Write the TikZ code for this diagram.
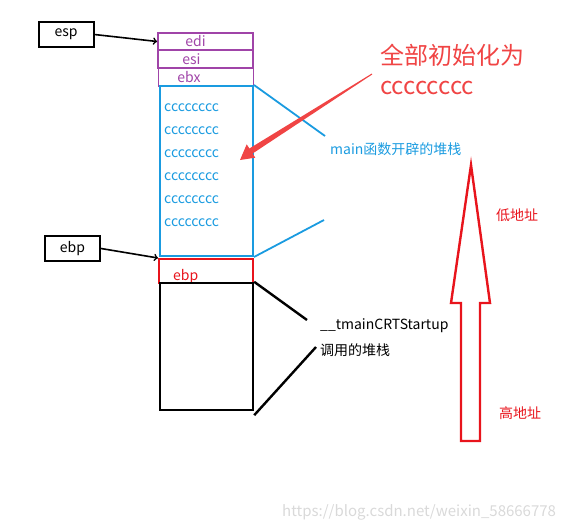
\documentclass[tikz,border=0pt]{standalone}
\usepackage{fontspec}
\setmainfont{Noto Sans CJK SC}
\definecolor{regpurple}{HTML}{A044A8}
\definecolor{stackblue}{HTML}{1A9BE0}
\definecolor{addrred}{HTML}{E8141C}
\definecolor{noteredd}{HTML}{F04444}
\begin{document}
\begin{tikzpicture}[x=1pt,y=-1pt,
		reg/.style={draw=black,line width=2pt,minimum width=55pt,minimum height=25pt,inner sep=0pt,font=\fontsize{14}{16}\selectfont},
		slot/.style={draw=regpurple,line width=1.8pt,text=regpurple,minimum width=95pt,inner sep=0pt,font=\fontsize{14}{16}\selectfont},
		txt/.style={anchor=west,inner sep=0pt,font=\fontsize{14}{16}\selectfont}]
		\useasboundingbox (0,0) rectangle (562,530);
		% registers
		\node (esp) at (66,34.5) [reg] {esp};
		\node (ebp) at (72.5,248.5) [reg] {ebp};
		\node (edi) at (205.5,41.5) [slot,minimum height=17pt] {\hspace{-20pt}edi};
		\node (esi) at (205.5,59) [slot,minimum height=18pt] {\hspace{-28pt}esi};
		\node (ebx) at (206,77) [slot,minimum height=18pt] {\hspace{-34pt}ebx};
		\draw[->,line width=1.6pt] (esp.east) -- (edi.west);
		% main stack
		\node (main) at (206.5,171) [draw=stackblue,line width=2pt,minimum width=93pt,minimum height=170pt] {};
		\foreach \y [count=\i] in {108,131,154,177,200,223}
			\node (c\i) at (164,\y) [txt,text=stackblue] {cccccccc};
		\node (mainlbl) at (330,149) [txt,text=stackblue] {main函数开辟的堆栈};
		\coordinate (mtop) at (325,136);
		\coordinate (mbot) at (324,220);
		\draw[stackblue,line width=1.8pt] (main.north east) -- (mtop);
		\draw[stackblue,line width=1.8pt] (main.south east) -- (mbot);
		% saved ebp
		\node (sebp) at (206,271) [draw=addrred,line width=2pt,minimum width=94pt,minimum height=24pt] {};
		\node (sebplbl) at (173,277) [txt,text=addrred] {ebp};
		\draw[->,line width=1.6pt] (ebp.east) -- (sebp.north west);
		% caller stack
		\node (crt) at (206.5,346.5) [draw=black,line width=2.4pt,minimum width=93pt,minimum height=127pt] {};
		\node (crtlbl) at (320,326) [txt] {\_\_tmainCRTStartup};
		\node (crtlbl2) at (320,350) [txt] {调用的堆栈};
		\coordinate (ctop) at (307,320);
		\coordinate (cbot) at (316,347);
		\draw[line width=2.4pt] (crt.north east) -- (ctop);
		\draw[line width=2.4pt] ([yshift=-4pt]crt.south east) -- (cbot);
		% note
		\node (note) at (380,55) [txt,text=noteredd,font=\fontsize{24}{28}\selectfont] {全部初始化为};
		\node (notec) at (380,88) [txt,text=noteredd,font=\fontsize{24}{28}\selectfont] {cccccccc};
		\fill[noteredd] (372.3,74.4) -- (252.6,153.5) -- (255.3,157.7) -- (240,160) -- (246.7,144.3) -- (249.4,148.5) -- (371.7,73.6) -- cycle;
		% address direction
		\draw[addrred,line width=2.4pt] (471,165) -- (490,303) -- (480,303) -- (480,441) -- (461,441) -- (461,303) -- (451,303) -- cycle;
		\node (low) at (496,215) [txt,text=addrred] {低地址};
		\node (high) at (499,413) [txt,text=addrred] {高地址};
		\node (mark) at (282,512) [txt,text=black!15,font=\fontsize{15}{17}\selectfont] {https://blog.csdn.net/weixin\_58666778};
	\end{tikzpicture}
\end{document}
